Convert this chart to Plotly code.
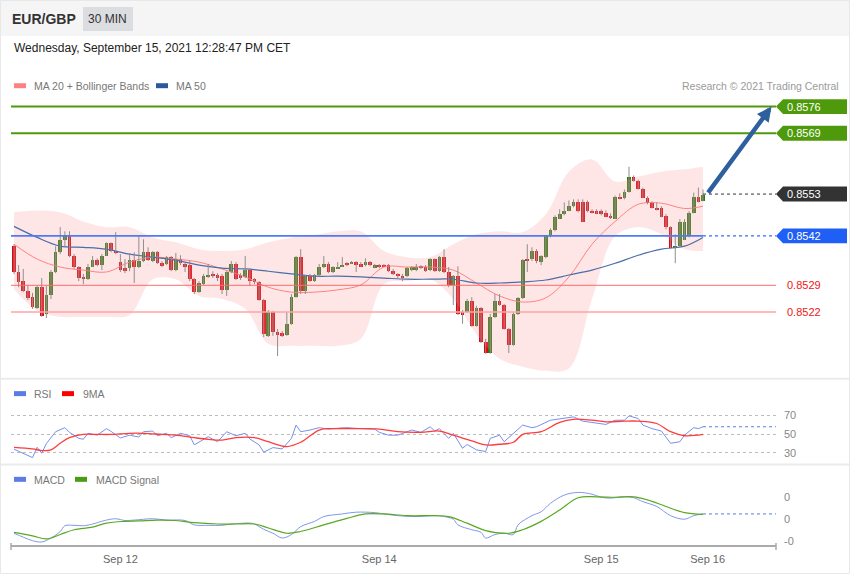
import plotly.graph_objects as go

W, H = 850, 576

# ---------------- data ----------------
open_ = [0.85393, 0.85325, 0.85301, 0.85275, 0.85259, 0.85230, 0.85285, 0.85215, 0.85264, 0.85325,
         0.85377, 0.85409, 0.85422, 0.85369, 0.85338, 0.85312, 0.85306, 0.85340, 0.85356, 0.85343,
         0.85369, 0.85401, 0.85380, 0.85351, 0.85335, 0.85335, 0.85356, 0.85338, 0.85354, 0.85377,
         0.85354, 0.85377, 0.85348, 0.85346, 0.85364, 0.85330, 0.85361, 0.85346, 0.85343, 0.85306,
         0.85272, 0.85293, 0.85314, 0.85320, 0.85317, 0.85314, 0.85278, 0.85325, 0.85346, 0.85317,
         0.85312, 0.85330, 0.85306, 0.85299, 0.85251, 0.85157, 0.85220, 0.85167, 0.85165, 0.85159,
         0.85189, 0.85259, 0.85364, 0.85275, 0.85314, 0.85301, 0.85317, 0.85338, 0.85346, 0.85325,
         0.85335, 0.85340, 0.85348, 0.85348, 0.85351, 0.85346, 0.85343, 0.85351, 0.85338, 0.85343,
         0.85343, 0.85343, 0.85327, 0.85320, 0.85314, 0.85314, 0.85330, 0.85330, 0.85340, 0.85340,
         0.85330, 0.85359, 0.85327, 0.85364, 0.85325, 0.85291, 0.85314, 0.85220, 0.85220, 0.85249,
         0.85183, 0.85230, 0.85141, 0.85112, 0.85207, 0.85249, 0.85238, 0.85175, 0.85133, 0.85215,
         0.85257, 0.85361, 0.85359, 0.85380, 0.85351, 0.85364, 0.85419, 0.85435, 0.85466, 0.85477,
         0.85487, 0.85498, 0.85511, 0.85511, 0.85511, 0.85485, 0.85485, 0.85485, 0.85482, 0.85474,
         0.85466, 0.85524, 0.85519, 0.85537, 0.85576, 0.85566, 0.85545, 0.85521, 0.85508, 0.85495,
         0.85495, 0.85474, 0.85443, 0.85390, 0.85393, 0.85411, 0.85419, 0.85482, 0.85524, 0.85513]
high_ = [0.85398, 0.85343, 0.85333, 0.85291, 0.85270, 0.85288, 0.85309, 0.85288, 0.85330, 0.85393,
         0.85443, 0.85432, 0.85432, 0.85372, 0.85340, 0.85320, 0.85346, 0.85367, 0.85361, 0.85372,
         0.85403, 0.85403, 0.85430, 0.85372, 0.85359, 0.85375, 0.85377, 0.85419, 0.85411, 0.85390,
         0.85380, 0.85380, 0.85354, 0.85367, 0.85367, 0.85375, 0.85369, 0.85351, 0.85354, 0.85309,
         0.85301, 0.85320, 0.85346, 0.85327, 0.85322, 0.85320, 0.85327, 0.85354, 0.85351, 0.85322,
         0.85367, 0.85335, 0.85309, 0.85301, 0.85254, 0.85225, 0.85223, 0.85175, 0.85170, 0.85220,
         0.85267, 0.85367, 0.85385, 0.85317, 0.85320, 0.85320, 0.85346, 0.85367, 0.85351, 0.85340,
         0.85351, 0.85364, 0.85351, 0.85354, 0.85354, 0.85351, 0.85361, 0.85354, 0.85346, 0.85346,
         0.85346, 0.85346, 0.85333, 0.85322, 0.85320, 0.85338, 0.85340, 0.85346, 0.85343, 0.85343,
         0.85361, 0.85361, 0.85367, 0.85385, 0.85338, 0.85317, 0.85340, 0.85225, 0.85254, 0.85259,
         0.85236, 0.85233, 0.85149, 0.85215, 0.85267, 0.85267, 0.85241, 0.85178, 0.85220, 0.85259,
         0.85359, 0.85398, 0.85390, 0.85385, 0.85369, 0.85422, 0.85440, 0.85474, 0.85490, 0.85508,
         0.85513, 0.85516, 0.85516, 0.85516, 0.85513, 0.85490, 0.85490, 0.85490, 0.85487, 0.85479,
         0.85526, 0.85532, 0.85542, 0.85602, 0.85579, 0.85568, 0.85547, 0.85524, 0.85511, 0.85508,
         0.85498, 0.85477, 0.85445, 0.85424, 0.85464, 0.85464, 0.85485, 0.85534, 0.85547, 0.85542]
low_ = [0.85320, 0.85285, 0.85272, 0.85251, 0.85228, 0.85228, 0.85207, 0.85204, 0.85254, 0.85322,
        0.85372, 0.85393, 0.85364, 0.85333, 0.85301, 0.85293, 0.85304, 0.85338, 0.85340, 0.85330,
        0.85367, 0.85377, 0.85372, 0.85325, 0.85322, 0.85327, 0.85296, 0.85335, 0.85351, 0.85354,
        0.85351, 0.85346, 0.85338, 0.85343, 0.85327, 0.85327, 0.85343, 0.85325, 0.85301, 0.85267,
        0.85270, 0.85291, 0.85309, 0.85309, 0.85301, 0.85267, 0.85262, 0.85322, 0.85304, 0.85304,
        0.85309, 0.85288, 0.85293, 0.85249, 0.85154, 0.85154, 0.85157, 0.85104, 0.85154, 0.85157,
        0.85186, 0.85257, 0.85267, 0.85267, 0.85299, 0.85299, 0.85314, 0.85335, 0.85322, 0.85322,
        0.85333, 0.85338, 0.85340, 0.85346, 0.85325, 0.85338, 0.85340, 0.85340, 0.85335, 0.85335,
        0.85338, 0.85325, 0.85317, 0.85309, 0.85301, 0.85312, 0.85327, 0.85327, 0.85333, 0.85325,
        0.85327, 0.85325, 0.85325, 0.85322, 0.85285, 0.85238, 0.85212, 0.85189, 0.85217, 0.85181,
        0.85181, 0.85138, 0.85110, 0.85110, 0.85204, 0.85236, 0.85173, 0.85112, 0.85131, 0.85212,
        0.85254, 0.85325, 0.85354, 0.85348, 0.85343, 0.85361, 0.85416, 0.85432, 0.85464, 0.85474,
        0.85485, 0.85495, 0.85482, 0.85456, 0.85482, 0.85479, 0.85477, 0.85474, 0.85469, 0.85464,
        0.85464, 0.85516, 0.85516, 0.85534, 0.85563, 0.85542, 0.85519, 0.85503, 0.85492, 0.85487,
        0.85469, 0.85437, 0.85385, 0.85348, 0.85390, 0.85409, 0.85416, 0.85479, 0.85508, 0.85511]
close_ = [0.85325, 0.85299, 0.85275, 0.85257, 0.85233, 0.85285, 0.85210, 0.85264, 0.85325, 0.85377,
          0.85409, 0.85422, 0.85367, 0.85338, 0.85309, 0.85306, 0.85340, 0.85356, 0.85343, 0.85369,
          0.85401, 0.85380, 0.85377, 0.85330, 0.85330, 0.85356, 0.85338, 0.85354, 0.85377, 0.85356,
          0.85377, 0.85348, 0.85343, 0.85364, 0.85330, 0.85361, 0.85348, 0.85340, 0.85306, 0.85272,
          0.85296, 0.85314, 0.85317, 0.85314, 0.85312, 0.85278, 0.85325, 0.85346, 0.85306, 0.85309,
          0.85330, 0.85301, 0.85299, 0.85251, 0.85162, 0.85220, 0.85167, 0.85162, 0.85157, 0.85189,
          0.85259, 0.85364, 0.85275, 0.85314, 0.85301, 0.85317, 0.85338, 0.85346, 0.85325, 0.85338,
          0.85340, 0.85343, 0.85346, 0.85351, 0.85346, 0.85340, 0.85351, 0.85343, 0.85343, 0.85340,
          0.85340, 0.85327, 0.85320, 0.85314, 0.85312, 0.85335, 0.85338, 0.85340, 0.85338, 0.85327,
          0.85359, 0.85327, 0.85364, 0.85325, 0.85291, 0.85314, 0.85215, 0.85215, 0.85249, 0.85183,
          0.85230, 0.85141, 0.85112, 0.85207, 0.85249, 0.85238, 0.85175, 0.85133, 0.85215, 0.85257,
          0.85356, 0.85354, 0.85382, 0.85354, 0.85367, 0.85419, 0.85435, 0.85469, 0.85477, 0.85487,
          0.85498, 0.85511, 0.85485, 0.85458, 0.85485, 0.85482, 0.85479, 0.85479, 0.85471, 0.85469,
          0.85524, 0.85519, 0.85537, 0.85576, 0.85566, 0.85545, 0.85521, 0.85506, 0.85495, 0.85490,
          0.85471, 0.85443, 0.85390, 0.85395, 0.85458, 0.85458, 0.85482, 0.85524, 0.85511, 0.85529]

# indicator samples (candle index -> value)
band_idx = [0, 5, 10, 15, 20, 25, 30, 35, 40, 45, 50, 55, 60, 65, 70, 75, 80, 85, 90, 95,
            100, 105, 110, 115, 120, 125, 130, 135, 140, 145, 149]
bb_upper = [0.85482, 0.85487, 0.85482, 0.85458, 0.85443, 0.85443, 0.85416, 0.85403, 0.85385, 0.85380,
            0.85385, 0.85403, 0.85416, 0.85422, 0.85432, 0.85432, 0.85380, 0.85364, 0.85364, 0.85398,
            0.85424, 0.85432, 0.85430, 0.85477, 0.85589, 0.85621, 0.85563, 0.85576, 0.85589, 0.85595,
            0.85602]
bb_lower = [0.85280, 0.85223, 0.85207, 0.85207, 0.85207, 0.85212, 0.85306, 0.85306, 0.85262, 0.85254,
            0.85228, 0.85136, 0.85131, 0.85131, 0.85131, 0.85149, 0.85293, 0.85301, 0.85306, 0.85254,
            0.85162, 0.85097, 0.85076, 0.85065, 0.85071, 0.85254, 0.85419, 0.85443, 0.85424, 0.85385,
            0.85380]
ma20 = [0.85398, 0.85359, 0.85338, 0.85330, 0.85325, 0.85351, 0.85364, 0.85359, 0.85351, 0.85333,
        0.85312, 0.85285, 0.85272, 0.85272, 0.85278, 0.85291, 0.85338, 0.85338, 0.85338, 0.85330,
        0.85296, 0.85262, 0.85246, 0.85257, 0.85312, 0.85398, 0.85458, 0.85503, 0.85506, 0.85492,
        0.85498]
ma50 = [0.85445, 0.85416, 0.85393, 0.85390, 0.85385, 0.85372, 0.85364, 0.85356, 0.85343, 0.85335,
        0.85333, 0.85327, 0.85320, 0.85314, 0.85314, 0.85312, 0.85309, 0.85306, 0.85306, 0.85306,
        0.85296, 0.85296, 0.85299, 0.85304, 0.85317, 0.85330, 0.85348, 0.85369, 0.85385, 0.85393,
        0.85416]

rsi_idx = [0, 2, 4, 5, 6, 7, 9, 11, 12, 14, 15, 16, 18, 20, 21, 23, 25, 27, 28, 30,
           31, 33, 34, 36, 38, 39, 41, 42, 44, 46, 48, 50, 51, 53, 54, 56, 58, 60, 61, 62,
           64, 66, 68, 72, 75, 78, 79, 81, 83, 85, 86, 88, 90, 91, 92, 94, 95, 97, 98, 100,
           102, 103, 105, 106, 108, 110, 112, 113, 116, 119, 121, 123, 125, 128, 130, 132, 133, 135, 136, 138,
           140, 142, 144, 145, 147, 148, 149]
rsi_val = [34, 29.7, 25, 36, 29.7, 40, 52.7, 57, 52, 45.6, 44.6, 51, 49, 56, 53, 46, 49, 47, 52.7, 53.4,
           48.4, 51, 46.3, 51, 48.4, 38.6, 44, 47.4, 42, 52.7, 48.4, 51, 45, 38.6, 30.8, 35.7, 34.3, 45.6, 59.8, 52.7,
           54.5, 57, 55.5, 57, 56, 55.5, 52, 49, 49, 52.7, 54.5, 52, 58, 53.4, 56, 45.6, 51, 35, 39, 33.3,
           31.5, 45.6, 49, 42, 51, 59.8, 57, 58, 65, 67.5, 68.6, 64, 62.6, 60.5, 65, 65, 69.6, 66.8, 59.8, 56,
           53.4, 40.3, 42, 49, 57, 56, 58]
ma9_idx = [0, 4, 6, 8, 10, 12, 15, 18, 21, 25, 28, 32, 35, 39, 42, 45, 48, 52, 55, 59,
           62, 66, 69, 74, 79, 83, 88, 92, 95, 99, 102, 105, 108, 110, 114, 118, 121, 125, 128, 132,
           135, 139, 142, 145, 149]
ma9_val = [36, 34.3, 32.5, 33.3, 40.3, 46.3, 49.8, 49.8, 49.8, 51, 51, 49.8, 49, 46.3, 44.6, 43.8, 46.3, 46.3, 42, 36.8,
           41.4, 54.5, 56, 56, 55.5, 52.7, 52, 53.4, 49, 42.8, 38.6, 39.3, 41.4, 49.8, 52.7, 62.6, 66, 65, 63.3, 64,
           64, 61.5, 52.7, 48.4, 49.8]

macd_idx = [0, 2, 4, 6, 8, 10, 11, 13, 15, 17, 18, 20, 22, 24, 26, 30, 33, 37, 39, 42,
            45, 47, 51, 52, 54, 56, 58, 60, 62, 65, 67, 71, 74, 78, 80, 83, 87, 91, 93, 95,
            96, 99, 101, 102, 104, 106, 108, 109, 112, 114, 116, 119, 122, 125, 127, 129, 132, 134, 136, 139,
            142, 145, 147, 149]
macd_val = [-0.00032, -0.00041, -0.00049, -0.00052, -0.00043, -0.00028, -0.00015, -0.00014, -0.00015, -0.00011,
            -0.00008, -0.00002, 0.00001, -0.00003, -0.00002, 0.00001, -0.00002, -0.00003, -0.00013, -0.00014,
            -0.00014, -0.00011, -0.00009, -0.00011, -0.00023, -0.00032, -0.00043, -0.00035, -0.00017, -0.00005,
            0.00006, 0.00012, 0.00016, 0.00015, 0.00012, 0.00008, 0.00006, 0.00008, 0.00006, 0.0,
            -0.00013, -0.00024, -0.00030, -0.00043, -0.00035, -0.00032, -0.00035, -0.00013, 0.00008, 0.00017,
            0.00036, 0.00055, 0.00061, 0.00057, 0.00050, 0.00048, 0.00051, 0.00049, 0.00040, 0.00029,
            0.00008, 0.0, 0.00008, 0.00012]
sig_idx = [0, 4, 7, 10, 13, 17, 20, 24, 27, 31, 35, 39, 44, 48, 52, 55, 59, 62, 67, 72,
           76, 80, 85, 91, 94, 98, 102, 107, 110, 114, 118, 122, 126, 130, 134, 137, 141, 145, 149]
sig_val = [-0.00030, -0.00038, -0.00045, -0.00035, -0.00024, -0.00018, -0.00009, -0.00005, -0.00004, -0.00002,
           -0.00003, -0.00008, -0.00011, -0.00011, -0.00011, -0.00020, -0.00032, -0.00028, -0.00013, 0.00002,
           0.00012, 0.00012, 0.00008, 0.00008, 0.00006, -0.00009, -0.00026, -0.00032, -0.00024, -0.00005,
           0.00021, 0.00049, 0.00051, 0.00050, 0.00051, 0.00044, 0.00029, 0.00015, 0.00011]

# key levels
target_levels = [0.8576, 0.8569]
last_level = 0.8553
pivot_level = 0.8542
support_levels = [0.8529, 0.8522]

# x ticks
tick_idx = [23, 79, 127, 150]
tick_labels = ["Sep 12", "Sep 14", "Sep 15", "Sep 16"]

macd_tick_vals = [0.0005, 0.0, -0.0005]
macd_tick_text = ["0", "0", "-0"]
rsi_ticks = [30, 50, 70]

# ---------------- geometry ----------------
def px_x(px):
    return px / W

def px_y(py):
    return 1 - py / H

FONT = "Arial, Liberation Sans, sans-serif"
n = len(close_)
idx = list(range(n))

X0_PX, X1_PX = 11, 776
FIRST_PX, LAST_PX = 14, 703
ppi = (LAST_PX - FIRST_PX) / (n - 1)
x_range = [(X0_PX - FIRST_PX) / ppi, (X1_PX - FIRST_PX) / ppi]

# price axis calibration (top/bottom target level rows)
TOP_LEVEL_PX, BOT_LEVEL_PX = 107, 313
ppp = (BOT_LEVEL_PX - TOP_LEVEL_PX) / (target_levels[0] - support_levels[-1])
MAIN_TOP, MAIN_BOT = 65, 378
y_range = [support_levels[-1] - (MAIN_BOT - BOT_LEVEL_PX) / ppp,
           target_levels[0] + (TOP_LEVEL_PX - MAIN_TOP) / ppp]

RSI_TOP, RSI_BOT = 400, 462
rsi_ppu = (454.5 - 417.0) / 40.0
rsi_range = [70 - (RSI_BOT - 417) / rsi_ppu, 70 + (417 - RSI_TOP) / rsi_ppu]

MACD_TOP, MACD_BOT = 488, 547
macd_ppu = 22 / 0.0005
macd_range = [-(MACD_BOT - 521) / macd_ppu, (521 - MACD_TOP) / macd_ppu]

GREEN = "#2c7a10"
RED = "#e8000b"

fig = go.Figure()

# Bollinger band
fig.add_trace(go.Scatter(x=band_idx, y=bb_lower, mode="lines",
                         line=dict(width=0, shape="spline", smoothing=1.0),
                         hoverinfo="skip", showlegend=False))
fig.add_trace(go.Scatter(x=band_idx, y=bb_upper, mode="lines",
                         line=dict(width=0, shape="spline", smoothing=1.0),
                         fill="tonexty", fillcolor="rgba(255,150,150,0.24)",
                         hoverinfo="skip", showlegend=False))
fig.add_trace(go.Scatter(x=band_idx, y=ma20, mode="lines",
                         line=dict(color="#ff8080", width=1, shape="spline"),
                         hoverinfo="skip", showlegend=False))
fig.add_trace(go.Scatter(x=band_idx, y=ma50, mode="lines",
                         line=dict(color="#4a6ea8", width=1.2, shape="spline"),
                         hoverinfo="skip", showlegend=False))

# wicks
wx, wy = [], []
for i in idx:
    wx += [i, i, None]
    wy += [low_[i], high_[i], None]
fig.add_trace(go.Scatter(x=wx, y=wy, mode="lines", line=dict(color="#8e8e8e", width=1),
                         hoverinfo="skip", showlegend=False))

# bodies
min_body = 0.5 / ppp
body_base, body_h, body_col = [], [], []
for o, c in zip(open_, close_):
    lo, hi = min(o, c), max(o, c)
    h = max(hi - lo, min_body)
    body_base.append(lo)
    body_h.append(h)
    body_col.append(GREEN if c >= o else RED)
fig.add_trace(go.Bar(x=idx, y=body_h, base=body_base, width=0.8,
                     marker=dict(color=body_col, line=dict(width=0)),
                     hoverinfo="skip", showlegend=False))

# last price dotted extension & pivot extension
fig.add_trace(go.Scatter(x=[n - 1, x_range[1]], y=[last_level, last_level], mode="lines",
                         line=dict(color="#333333", width=1, dash="dot"),
                         hoverinfo="skip", showlegend=False))
fig.add_trace(go.Scatter(x=[n - 1, x_range[1]], y=[pivot_level, pivot_level], mode="lines",
                         line=dict(color="#3a6df0", width=1.2, dash="dot"),
                         hoverinfo="skip", showlegend=False))

# RSI
fig.add_trace(go.Scatter(x=rsi_idx, y=rsi_val, mode="lines", yaxis="y2",
                         line=dict(color="#7690ea", width=1),
                         hoverinfo="skip", showlegend=False))
fig.add_trace(go.Scatter(x=ma9_idx, y=ma9_val, mode="lines", yaxis="y2",
                         line=dict(color="#ff3b3b", width=1.3, shape="spline"),
                         hoverinfo="skip", showlegend=False))
fig.add_trace(go.Scatter(x=[rsi_idx[-1], x_range[1]], y=[rsi_val[-1], rsi_val[-1]], mode="lines",
                         yaxis="y2", line=dict(color="#5b7be6", width=1, dash="dot"),
                         hoverinfo="skip", showlegend=False))

# MACD
fig.add_trace(go.Scatter(x=macd_idx, y=macd_val, mode="lines", yaxis="y3",
                         line=dict(color="#7f98ea", width=1, shape="spline"),
                         hoverinfo="skip", showlegend=False))
fig.add_trace(go.Scatter(x=sig_idx, y=sig_val, mode="lines", yaxis="y3",
                         line=dict(color="#5aa820", width=1.2, shape="spline"),
                         hoverinfo="skip", showlegend=False))
fig.add_trace(go.Scatter(x=[macd_idx[-1], x_range[1]], y=[macd_val[-1], macd_val[-1]], mode="lines",
                         yaxis="y3", line=dict(color="#5b7be6", width=1, dash="dot"),
                         hoverinfo="skip", showlegend=False))

shapes = []
annotations = []

# page frame / header
shapes.append(dict(type="rect", xref="paper", yref="paper", x0=0, x1=1, y0=px_y(36), y1=1,
                   fillcolor="#f5f5f5", line=dict(width=0), layer="below"))
shapes.append(dict(type="rect", xref="paper", yref="paper", x0=px_x(83), x1=px_x(133),
                   y0=px_y(31), y1=px_y(7), fillcolor="#dcdde1", line=dict(width=0), layer="below"))
for sy in (380, 466):
    shapes.append(dict(type="line", xref="paper", yref="paper", x0=0, x1=1, y0=px_y(sy), y1=px_y(sy),
                       line=dict(color="#ebebeb", width=2)))
shapes.append(dict(type="rect", xref="paper", yref="paper", x0=px_x(0.5), x1=px_x(849.5),
                   y0=px_y(575.5), y1=px_y(0.5), line=dict(color="#e8e8e8", width=1)))
# x-axis end ticks
for ex in (X0_PX, X1_PX):
    shapes.append(dict(type="line", xref="paper", yref="paper", x0=px_x(ex), x1=px_x(ex),
                       y0=px_y(552), y1=px_y(545), line=dict(color="#aaaaaa", width=1.5)))

# horizontal levels
for lv in target_levels:
    shapes.append(dict(type="line", xref="x domain", yref="y", x0=0, x1=1, y0=lv, y1=lv,
                       line=dict(color="#4e9a0c", width=2)))
shapes.append(dict(type="line", xref="x", yref="y", x0=x_range[0], x1=n - 1, y0=pivot_level, y1=pivot_level,
                   line=dict(color="#4d7cf2", width=1.6)))
shapes.append(dict(type="line", xref="x domain", yref="y", x0=0, x1=1, y0=support_levels[0], y1=support_levels[0],
                   line=dict(color="#ff6b6b", width=1)))
shapes.append(dict(type="line", xref="x domain", yref="y", x0=0, x1=1, y0=support_levels[1], y1=support_levels[1],
                   line=dict(color="#ffa5a5", width=1.5)))

# label boxes
half = 7.5 / ppp
def tag(level, color):
    xa, xb, xc = px_x(776), px_x(783), px_x(847)
    shapes.append(dict(type="path", xref="paper", yref="y",
                       path=f"M {xa},{level} L {xb},{level + half} L {xc},{level + half} "
                            f"L {xc},{level - half} L {xb},{level - half} Z",
                       fillcolor=color, line=dict(width=0)))
    annotations.append(dict(x=px_x(785), y=level, xref="paper", yref="y", xanchor="left", yanchor="middle",
                            text=f"{level:.4f}", showarrow=False,
                            font=dict(family=FONT, size=11, color="white")))

for lv in target_levels:
    tag(lv, "#4e9a0c")
tag(last_level, "#333333")
tag(pivot_level, "#1f5ff5")
for lv in support_levels:
    annotations.append(dict(x=px_x(785), y=lv, xref="paper", yref="y", xanchor="left", yanchor="middle",
                            text=f"{lv:.4f}", showarrow=False,
                            font=dict(family=FONT, size=11, color="#f01414")))

# projection arrow
annotations.append(dict(x=(771.5 - FIRST_PX) / ppi, y=target_levels[0], xref="x", yref="y",
                        ax=n - 1 + (707 - LAST_PX) / ppi, ay=last_level, axref="x", ayref="y",
                        showarrow=True, arrowhead=2, arrowsize=0.65, arrowwidth=4.5,
                        arrowcolor="#2e5f9e", standoff=0, text=""))

# texts
def txt(x, y, s, size=11, color="#777777", anchor="left", bold=False):
    annotations.append(dict(x=px_x(x), y=px_y(y), xref="paper", yref="paper", xanchor=anchor,
                            yanchor="middle", text=(f"<b>{s}</b>" if bold else s), showarrow=False,
                            font=dict(family=FONT, size=size, color=color)))

txt(10, 19, "EUR/GBP", size=14, color="#333333", bold=True)
txt(108, 19, "30 MIN", size=12, color="#333333", anchor="center")
txt(12, 48.5, "Wednesday, September 15, 2021 12:28:47 PM CET", size=12, color="#222222")
txt(841, 86.5, "Research © 2021 Trading Central", size=10.5, color="#9a9a9a", anchor="right")

def swatch(x, y, color):
    shapes.append(dict(type="rect", xref="paper", yref="paper", x0=px_x(x), x1=px_x(x + 12),
                       y0=px_y(y + 2.5), y1=px_y(y - 2.5), fillcolor=color, line=dict(width=0)))

swatch(14, 86, "#ff8080"); txt(32, 86.5, "MA 20 + Bollinger Bands", size=10.5)
swatch(156, 86, "#2b5a9c"); txt(174, 86.5, "MA 50", size=10.5)
swatch(14, 395, "#5b7be6"); txt(32, 395.5, "RSI", size=10.5)
swatch(62, 395, "#ff0000"); txt(81, 395.5, "9MA", size=10.5)
swatch(14, 481, "#5b7be6"); txt(32, 481.5, "MACD", size=10.5)
swatch(75, 481, "#4a9c14"); txt(94, 481.5, "MACD Signal", size=10.5)

fig.update_layout(
    width=W, height=H,
    margin=dict(l=0, r=0, t=0, b=0),
    paper_bgcolor="white", plot_bgcolor="rgba(0,0,0,0)",
    barmode="overlay", bargap=0,
    showlegend=False,
    font=dict(family=FONT, size=11, color="#777777"),
    xaxis=dict(domain=[px_x(X0_PX), px_x(X1_PX)], range=x_range, anchor="y3",
               showline=True, linecolor="#aaaaaa", linewidth=1.5, ticks="",
               tickvals=tick_idx, ticktext=tick_labels, tickfont=dict(size=11, color="#666666"),
               ticklabelstandoff=3,
               showgrid=False, zeroline=False, fixedrange=True),
    yaxis=dict(domain=[px_y(MAIN_BOT), px_y(MAIN_TOP)], range=y_range, visible=False,
               showgrid=False, zeroline=False),
    yaxis2=dict(domain=[px_y(RSI_BOT), px_y(RSI_TOP)], range=rsi_range, side="right", anchor="x",
                tickvals=rsi_ticks, showgrid=True, griddash="dot", gridcolor="#bdbdbd", gridwidth=1,
                zeroline=False, ticks="", ticklabelstandoff=7,
                tickfont=dict(size=11, color="#888888")),
    yaxis3=dict(domain=[px_y(MACD_BOT), px_y(MACD_TOP)], range=macd_range, side="right", anchor="x",
                tickvals=macd_tick_vals, ticktext=macd_tick_text, showgrid=False, zeroline=False,
                ticks="", ticklabelstandoff=7, tickfont=dict(size=11, color="#888888")),
    shapes=shapes, annotations=annotations,
)

fig.write_html("out.html", config={"displayModeBar": False},
               post_script="document.body.style.margin='0';document.body.style.overflow='hidden';")
